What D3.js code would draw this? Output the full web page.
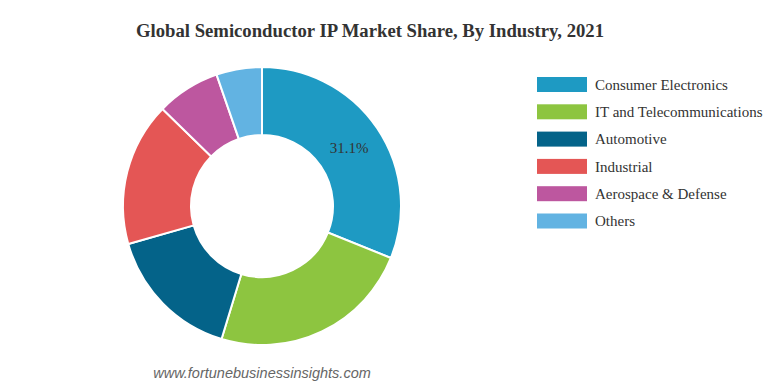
<!DOCTYPE html>
<html><head><meta charset="utf-8">
<script src="https://cdn.jsdelivr.net/npm/d3@7"></script>
<style>html,body{margin:0;padding:0;background:#fff;}svg{display:block;}</style>
</head><body>
<svg id="chart" width="778" height="387"></svg>
<script>
const categories = ["Consumer Electronics","IT and Telecommunications","Automotive","Industrial","Aerospace & Defense","Others"];
const values = [31.1, 23.6, 15.9, 16.7, 7.4, 5.3];
const colors = ["#1e9ac3","#8dc540","#046389","#e45655","#bd579f","#62b3e2"];
const labeled = [true, false, false, false, false, false];

const svg = d3.select("#chart");
const cx = 262, cy = 206, rOuter = 139, rInner = 71;

svg.append("text").attr("x", 370).attr("y", 37).attr("text-anchor","middle")
  .attr("font-family","'Liberation Serif','Times New Roman',serif").attr("font-weight","bold")
  .attr("font-size","18.7px").attr("fill","#333").text("Global Semiconductor IP Market Share, By Industry, 2021");

const data = categories.map((c,i)=>({name:c, value:values[i], color:colors[i], label:labeled[i]}));
const pie = d3.pie().value(d=>d.value).sort(null);
const arc = d3.arc().innerRadius(rInner).outerRadius(rOuter);
const g = svg.append("g").attr("transform",`translate(${cx},${cy})`);
const arcs = pie(data);
g.selectAll("path").data(arcs).enter().append("path")
  .attr("d", arc).attr("fill", d=>d.data.color).attr("stroke","#fff").attr("stroke-width",2);
g.selectAll("text").data(arcs.filter(d=>d.data.label)).enter().append("text")
  .attr("transform", d=>`translate(${arc.centroid(d)})`).attr("dy","0.35em").attr("text-anchor","middle")
  .attr("font-family","'Liberation Serif','Times New Roman',serif").attr("font-size","15px").attr("fill","#333")
  .text(d=>d.data.value.toFixed(1)+"%");

const leg = svg.append("g").attr("transform","translate(537,77)");
const items = leg.selectAll("g").data(data).enter().append("g").attr("transform",(d,i)=>`translate(0,${i*27.3})`);
items.append("rect").attr("width",50).attr("height",15).attr("fill",d=>d.color);
items.append("text").attr("x",58).attr("y",7.5).attr("dy","0.35em")
  .attr("font-family","'Liberation Serif','Times New Roman',serif").attr("font-size","15px").attr("fill","#333")
  .text(d=>d.name);

svg.append("text").attr("x",262).attr("y",378).attr("text-anchor","middle")
  .attr("font-family","'Liberation Sans',Arial,sans-serif").attr("font-style","italic").attr("font-size","14.5px")
  .attr("fill","#666").text("www.fortunebusinessinsights.com");
</script>
</body></html>
